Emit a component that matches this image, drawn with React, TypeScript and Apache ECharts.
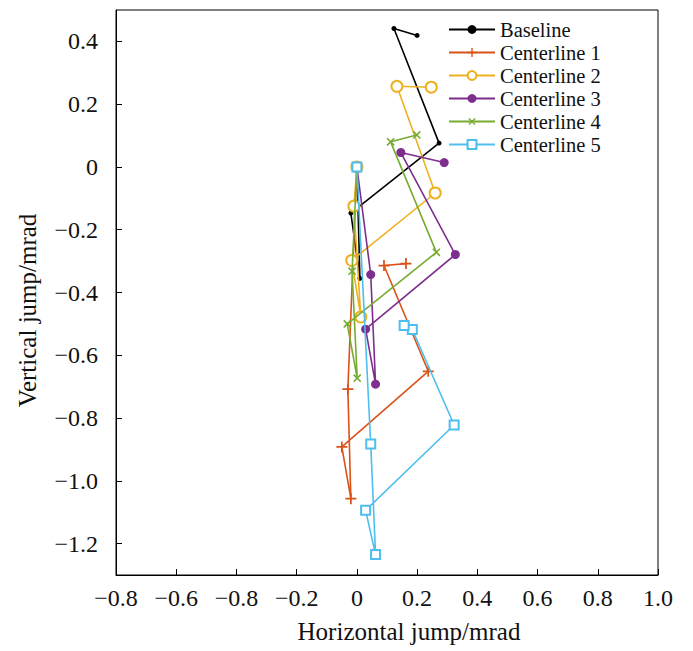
import React, { useEffect, useRef } from "react";
import * as echarts from "echarts";

const seriesNames = ["Baseline", "Centerline 1", "Centerline 2", "Centerline 3", "Centerline 4", "Centerline 5"];

const baseline: number[][] = [[0, 0], [0.01, -0.355], [-0.02, -0.147], [0.273, 0.076], [0.123, 0.441], [0.2, 0.419]];
const centerline1: number[][] = [[0, 0], [-0.03, -0.708], [-0.02, -1.057], [-0.05, -0.892], [0.237, -0.651], [0.09, -0.314], [0.163, -0.308]];
const centerline2: number[][] = [[0, 0], [-0.01, -0.125], [0.013, -0.478], [-0.017, -0.298], [0.26, -0.083], [0.133, 0.257], [0.247, 0.254]];
const centerline3: number[][] = [[0, 0], [0.046, -0.343], [0.062, -0.692], [0.029, -0.517], [0.327, -0.279], [0.146, 0.046], [0.29, 0.014]];
const centerline4: number[][] = [[0, 0], [-0.016, -0.332], [0.001, -0.673], [-0.032, -0.5], [0.264, -0.272], [0.112, 0.08], [0.199, 0.102]];
const centerline5: number[][] = [[0, 0], [0.046, -0.883], [0.062, -1.235], [0.029, -1.094], [0.323, -0.822], [0.184, -0.518], [0.157, -0.505]];

const xTickLabels = ["−0.8", "−0.6", "−0.8", "−0.2", "0", "0.2", "0.4", "0.6", "0.8", "1.0"];
const yTickValues = [-1.2, -1.0, -0.8, -0.6, -0.4, -0.2, 0, 0.2, 0.4];
const yTickLabels = ["−1.2", "−1.0", "−0.8", "−0.6", "−0.4", "−0.2", "0", "0.2", "0.4"];

const colors = ["#000000", "#D95319", "#EDB120", "#7E2F8E", "#77AC30", "#4DBEEE"];
const FONT = "'Liberation Serif', 'DejaVu Serif', serif";

const plusPath = "path://M0,4.2H10V5.8H0Z M4.2,0H5.8V10H4.2Z";

export default function App() {
  const ref = useRef<HTMLDivElement>(null);
  useEffect(() => {
    document.body.style.margin = "0";
    const chart = echarts.init(ref.current!, null, { renderer: "svg" });
    const datasets = [baseline, centerline1, centerline2, centerline3, centerline4, centerline5];
    const symbols: any[] = ["circle", plusPath, "emptyCircle", "circle", plusPath, "emptyRect"];
    const sizes = [5, 11, 11, 9, 10, 9];
    const rotates = [0, 0, 0, 0, 45, 0];
    const series = datasets.map((d, i) => ({
      name: seriesNames[i],
      type: "line",
      data: d,
      symbol: symbols[i],
      symbolSize: sizes[i],
      symbolRotate: rotates[i],
      showAllSymbol: true,
      lineStyle: { color: colors[i], width: 1.6 },
      itemStyle: {
        color: colors[i],
        borderColor: colors[i],
        borderWidth: symbols[i] === "emptyCircle" || symbols[i] === "emptyRect" ? 1.8 : 0,
      },
      emphasis: { disabled: true },
      z: 2 + i,
    }));
    chart.setOption({
      animation: false,
      color: colors,
      textStyle: { fontFamily: FONT },
      grid: {
        left: 116,
        right: 35,
        top: 10,
        bottom: 76,
        show: true,
        borderColor: "#000",
        borderWidth: 1,
        backgroundColor: "transparent",
        outerBoundsMode: "none",
      },
      legend: {
        orient: "vertical",
        left: 448,
        top: 18,
        itemWidth: 46,
        itemHeight: 11,
        itemGap: 0,
        padding: 0,
        textStyle: { fontFamily: FONT, fontSize: 20.5, lineHeight: 23, color: "#111" },
        data: seriesNames,
      },
      xAxis: {
        type: "value",
        min: -0.8,
        max: 1.0,
        interval: 0.2,
        name: "Horizontal jump/mrad",
        nameLocation: "middle",
        nameGap: 44,
        nameTextStyle: { fontFamily: FONT, fontSize: 25, color: "#111", padding: [0, 0, 0, 44] },
        axisLine: { show: true, onZero: false, lineStyle: { color: "#000", width: 1 } },
        axisTick: { show: true, inside: true, length: 6, lineStyle: { color: "#000" } },
        axisLabel: {
          fontFamily: FONT,
          fontSize: 24,
          color: "#111",
          margin: 11,
          formatter: (_v: number, idx: number) => xTickLabels[idx] ?? "",
        },
        splitLine: { show: false },
      },
      yAxis: {
        type: "value",
        min: -1.3,
        max: 0.5,
        name: "Vertical jump/mrad",
        nameLocation: "middle",
        nameGap: 76,
        nameRotate: 90,
        nameTextStyle: { fontFamily: FONT, fontSize: 25, color: "#111", padding: [0, 36, 0, 0] },
        axisLine: { show: true, onZero: false, lineStyle: { color: "#000", width: 1 } },
        axisTick: { show: true, inside: true, length: 6, lineStyle: { color: "#000" }, customValues: yTickValues },
        axisLabel: {
          fontFamily: FONT,
          fontSize: 24,
          color: "#111",
          margin: 18,
          customValues: yTickValues,
          formatter: (v: number) => {
            const i = yTickValues.findIndex((t) => Math.abs(t - v) < 1e-6);
            return i >= 0 ? yTickLabels[i] : "";
          },
        },
        splitLine: { show: false },
      },
      series,
    });
    return () => chart.dispose();
  }, []);
  return <div ref={ref} style={{ width: 693, height: 651 }} />;
}
